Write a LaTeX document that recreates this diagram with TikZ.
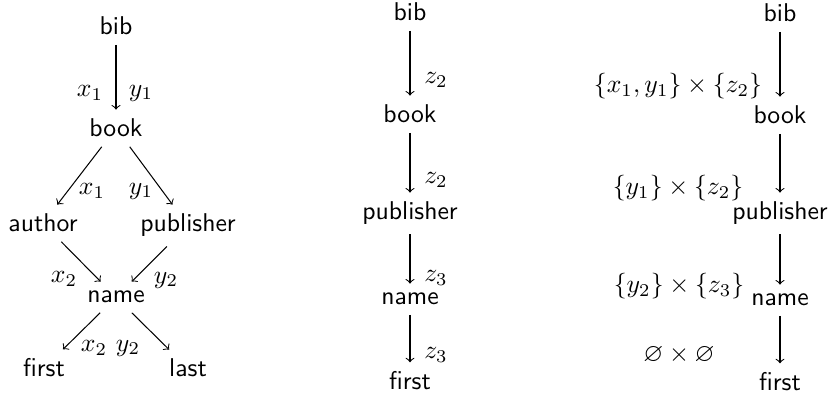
\documentclass[tikz,border=0pt]{standalone}
\usepackage{amssymb}
\begin{document}
\begin{tikzpicture}[x=0.389pt,y=-0.389pt,
  lbl/.style={font=\sffamily, anchor=base, inner sep=3.5pt},
  ml/.style={inner sep=0pt},
  arr/.style={->, line width=0.4pt}]
\useasboundingbox (0,0) rectangle (831,399);
% left tree
\node[lbl] (lbib) at (116,35) {bib};
\node[lbl] (lbook) at (116,137) {book};
\node[lbl] (lauthor) at (43,232) {author};
\node[lbl] (lpub) at (188,232) {publisher};
\node[lbl] (lname) at (116,303) {name};
\node[lbl] (lfirst) at (44,377) {first};
\node[lbl] (llast) at (188,377) {last};
\draw[arr] (lbib) -- (lbook);
\draw[arr] (lbook) -- (lauthor);
\draw[arr] (lbook) -- (lpub);
\draw[arr] (lauthor) -- (lname);
\draw[arr] (lpub) -- (lname);
\draw[arr] (lname) -- (lfirst);
\draw[arr] (lname) -- (llast);
\node[ml] (la1) at (90,93) {$x_1$};
\node[ml] (la2) at (141,93) {$y_1$};
\node[ml] (la3) at (92,191) {$x_1$};
\node[ml] (la4) at (141,191) {$y_1$};
\node[ml] (la5) at (64,279) {$x_2$};
\node[ml] (la6) at (166,280) {$y_2$};
\node[ml] (la7) at (94,348) {$x_2$};
\node[ml] (la8) at (128,348) {$y_2$};
% middle
\node[lbl] (mbib) at (410,21) {bib};
\node[lbl] (mbook) at (410,123) {book};
\node[lbl] (mpub) at (410,220) {publisher};
\node[lbl] (mname) at (410,305) {name};
\node[lbl] (mfirst) at (410,390) {first};
\draw[arr] (mbib) -- (mbook);
\draw[arr] (mbook) -- (mpub);
\draw[arr] (mpub) -- (mname);
\draw[arr] (mname) -- (mfirst);
\node[ml] (ma1) at (436,80) {$z_2$};
\node[ml] (ma2) at (436,180) {$z_2$};
\node[ml] (ma3) at (436,278) {$z_3$};
\node[ml] (ma4) at (436,355) {$z_3$};
% right
\node[lbl] (rbib) at (780,22) {bib};
\node[lbl] (rbook) at (780,124) {book};
\node[lbl] (rpub) at (780,220) {publisher};
\node[lbl] (rname) at (780,306) {name};
\node[lbl] (rfirst) at (780,391) {first};
\draw[arr] (rbib) -- (rbook);
\draw[arr] (rbook) -- (rpub);
\draw[arr] (rpub) -- (rname);
\draw[arr] (rname) -- (rfirst);
\node[ml] (ra1) at (678,86) {$\{x_1,y_1\}\times\{z_2\}$};
\node[ml] (ra2) at (678,188) {$\{y_1\}\times\{z_2\}$};
\node[ml] (ra3) at (679,286) {$\{y_2\}\times\{z_3\}$};
\node[ml] (ra4) at (679,355) {$\varnothing\times\varnothing$};
\end{tikzpicture}
\end{document}
